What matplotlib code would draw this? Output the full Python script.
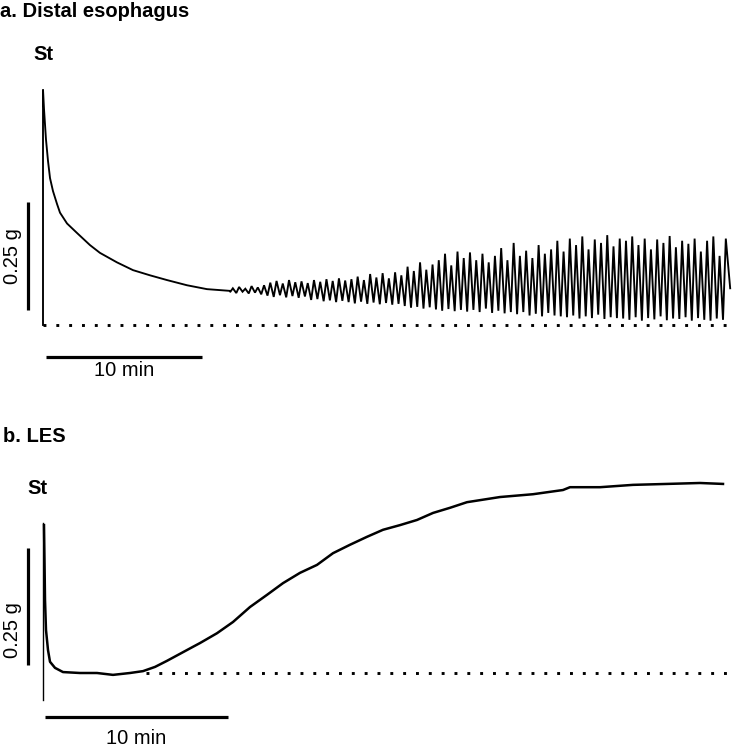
import numpy as np
import matplotlib
matplotlib.use("Agg")
import matplotlib.pyplot as plt

plt.rcParams['font.family'] = ['Liberation Sans', 'DejaVu Sans']

# ---------------- Panel a: Distal esophagus ----------------
# initial decay after stimulation (min, g)
a_decay_t = [0.0, 0.0, 0.064, 0.19, 0.32, 0.45, 0.64, 0.90, 1.09, 1.54, 2.18, 3.01,
             3.65, 4.74, 5.77, 6.86, 7.95, 9.23, 10.51, 11.99]
a_decay_g = [0.0, 0.545, 0.50, 0.43, 0.38, 0.34, 0.31, 0.28, 0.26, 0.235, 0.213, 0.185,
             0.167, 0.145, 0.127, 0.115, 0.104, 0.092, 0.083, 0.079]
# phasic contractions: start time and period (min), then per-cycle peak / trough (g)
a_osc_start = 11.99
a_osc_period = 0.40
a_peaks = [0.085, 0.088, 0.084, 0.090, 0.087, 0.092,
           0.098, 0.102, 0.096, 0.104, 0.099, 0.101, 0.097,
           0.104, 0.100, 0.106, 0.102, 0.108, 0.103,
           0.106, 0.112, 0.104, 0.118, 0.110, 0.120, 0.108, 0.122, 0.115,
           0.135, 0.125, 0.145, 0.128, 0.140,
           0.150, 0.165, 0.138, 0.170, 0.155, 0.168,
           0.150, 0.165, 0.145, 0.160, 0.178, 0.150, 0.190,
           0.160, 0.172, 0.155, 0.185, 0.165, 0.175, 0.195, 0.170,
           0.200, 0.185, 0.205, 0.175, 0.198, 0.190, 0.208, 0.182, 0.200,
           0.195, 0.205, 0.185, 0.200, 0.175, 0.198, 0.190, 0.206, 0.180,
           0.195, 0.188, 0.200, 0.170, 0.195, 0.205, 0.160, 0.200]
a_troughs = [0.076, 0.074, 0.077, 0.073, 0.075, 0.071,
             0.068, 0.065, 0.069, 0.064, 0.067, 0.063, 0.066,
             0.058, 0.060, 0.055, 0.057, 0.053, 0.056,
             0.053, 0.050, 0.054, 0.049, 0.052, 0.048, 0.051, 0.047, 0.049,
             0.044, 0.040, 0.042, 0.038, 0.041,
             0.036, 0.033, 0.037, 0.032, 0.035, 0.031,
             0.035, 0.030, 0.038, 0.028, 0.033, 0.027, 0.030,
             0.025, 0.030, 0.022, 0.026, 0.020, 0.028, 0.022, 0.020,
             0.018, 0.022, 0.015, 0.020, 0.016, 0.024, 0.014, 0.018, 0.016,
             0.015, 0.012, 0.018, 0.010, 0.016, 0.013, 0.020, 0.011, 0.015,
             0.014, 0.018, 0.010, 0.016, 0.012, 0.010, 0.015, 0.012]
a_end_t, a_end_g = 44.05, 0.085

# ---------------- Panel b: LES ----------------
b_t = [0.0, 0.027, 0.055, 0.109, 0.219, 0.328, 0.601, 1.038, 1.967, 2.896, 3.770,
       4.699, 5.410, 6.066, 6.721, 7.432, 8.142, 8.525, 9.454, 10.328, 11.257,
       12.186, 13.060, 13.989, 14.918, 15.792, 16.721, 17.650, 18.525, 19.454,
       20.383, 21.257, 22.186, 23.115, 24.918, 26.721, 28.361, 28.743, 30.383,
       32.186, 34.044, 35.847, 37.104]
b_g = [0.316, 0.241, 0.156, 0.092, 0.049, 0.024, 0.011, 0.002, 0.0, 0.0, -0.004,
       0.0, 0.004, 0.013, 0.026, 0.041, 0.056, 0.064, 0.085, 0.109, 0.141,
       0.167, 0.192, 0.214, 0.231, 0.256, 0.274, 0.291, 0.306, 0.316,
       0.327, 0.342, 0.353, 0.365, 0.376, 0.382, 0.391, 0.397, 0.397,
       0.402, 0.404, 0.406, 0.404]

scale_g = 0.25
scale_min = 10

W, H = 733, 749
fig = plt.figure(figsize=(W / 100, H / 100), dpi=100)

def fx(px):
    return px / W

def fy(py):
    return 1 - py / H

# axes a: covers pixel rows 0..375
axa = fig.add_axes([0, fy(375), 1, 375 / H])
axa.set_xlim(-43 / 15.6, 690 / 15.6)
axa.set_ylim((325 - 375) / 432, 325 / 432)
axa.axis('off')

# axes b: covers pixel rows 375..749
axb = fig.add_axes([0, 0, 1, fy(375)])
axb.set_xlim(-44 / 18.3, 689 / 18.3)
axb.set_ylim((673 - 749) / 468, (673 - 375) / 468)
axb.axis('off')

# build oscillating trace for a
osc_t, osc_g = [], []
for i, (pk, tr) in enumerate(zip(a_peaks, a_troughs)):
    t0 = a_osc_start + i * a_osc_period
    osc_t += [t0, t0 + 0.45 * a_osc_period]
    osc_g += [tr, pk]
osc_t.append(a_end_t)
osc_g.append(a_end_g)

ta = np.array(a_decay_t + osc_t)
ga = np.array(a_decay_g + osc_g)
axa.plot(ta, ga, color='black', lw=1.35, solid_joinstyle='miter')

# baseline dotted
dots = (0, (1, 3.4))
axa.plot([0, 44.0], [0, 0], color='black', lw=2.1, linestyle=dots, dash_capstyle='butt')
# scale bars a
axa.plot([-0.962, -0.962], [0.035, 0.035 + scale_g], color='black', lw=2.3, solid_capstyle='butt')
axa.plot([0.2, 0.2 + scale_min], [-0.074, -0.074], color='black', lw=2.3, solid_capstyle='butt')

# panel b trace
axb.plot([-0.055, -0.055], [-0.058, 0.32], color='black', lw=1.0)
axb.plot(b_t, b_g, color='black', lw=1.8)
axb.plot([5.6, 37.3], [0, 0], color='black', lw=2.1, linestyle=dots, dash_capstyle='butt')
axb.plot([-0.874, -0.874], [0.018 - 0.0, 0.018 + scale_g], color='black', lw=2.3, solid_capstyle='butt')
axb.plot([0.055, 0.055 + scale_min], [-0.094, -0.094], color='black', lw=2.3, solid_capstyle='butt')

# texts
fs = 14.5
fig.text(fx(0), fy(17), 'a. Distal esophagus', fontsize=fs, fontweight='bold', ha='left', va='baseline')
fig.text(fx(43), fy(55), 'St', fontsize=fs, fontweight='bold', ha='center', va='center')
fig.text(fx(13), fy(256), '0.25 g', fontsize=fs, rotation=90, ha='center', va='center')
fig.text(fx(124), fy(371), '10 min', fontsize=fs, ha='center', va='center')

fig.text(fx(3), fy(442), 'b. LES', fontsize=fs, fontweight='bold', ha='left', va='baseline')
fig.text(fx(37), fy(488), 'St', fontsize=fs, fontweight='bold', ha='center', va='center')
fig.text(fx(13), fy(630), '0.25 g', fontsize=fs, rotation=90, ha='center', va='center')
fig.text(fx(136), fy(739), '10 min', fontsize=fs, ha='center', va='center')

fig.savefig('out.png', dpi=100)
